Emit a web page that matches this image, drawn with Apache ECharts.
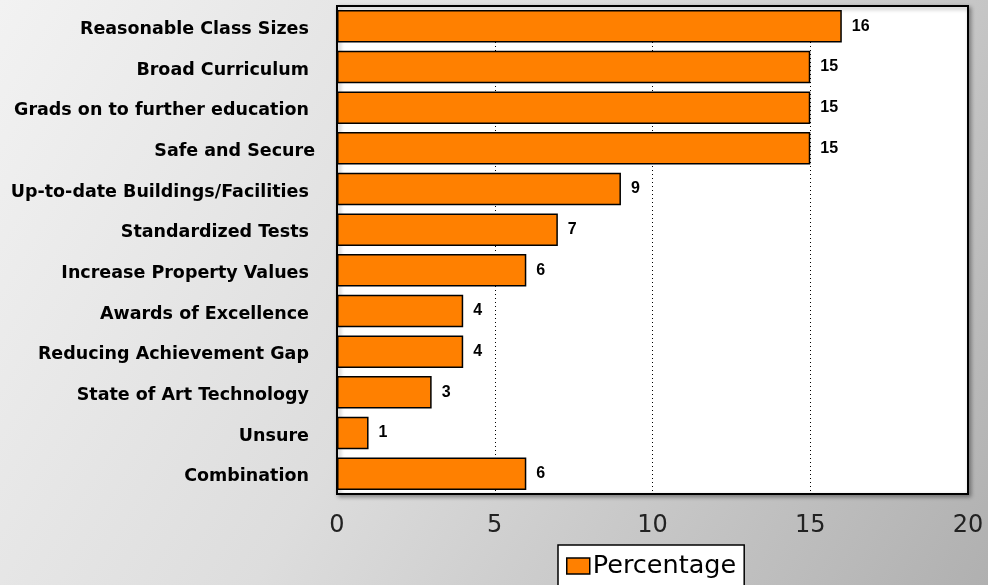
<!DOCTYPE html>
<html><head><meta charset="utf-8">
<script src="https://cdn.jsdelivr.net/npm/echarts@6/dist/echarts.min.js"></script>
<style>html,body{margin:0;padding:0;}#c{width:988px;height:585px;}</style>
</head><body><div id="c"></div>
<script>
const categories = ["Reasonable Class Sizes ", "Broad Curriculum ", "Grads on to further education ", "Safe and Secure", "Up-to-date Buildings/Facilities ", "Standardized Tests ", "Increase Property Values ", "Awards of Excellence ", "Reducing Achievement Gap ", "State of Art Technology ", "Unsure ", "Combination "];
const values = [16, 15, 15, 15, 9, 7, 6, 4, 4, 3, 1, 6];
const xTicks = [0, 5, 10, 15, 20];
const seriesName = "Percentage";

const chart = echarts.init(document.getElementById('c'));
chart.setOption({
  animation: false,
  backgroundColor: {
    type: 'linear', x: 0, y: 0, x2: 1, y2: 1,
    colorStops: [{offset: 0, color: '#f2f2f2'}, {offset: 0.45, color: '#dddddd'}, {offset: 1, color: '#b0b0b0'}]
  },
  grid: { left: 337, right: 20, top: 6, bottom: 91, show: true, backgroundColor: '#ffffff', borderColor: '#000', borderWidth: 2,
    shadowColor: 'rgba(0,0,0,0.35)', shadowBlur: 4, shadowOffsetX: 2, shadowOffsetY: 2 },
  legend: {
    data: [seriesName], left: 558, top: 545, icon: 'rect', itemWidth: 23, itemHeight: 16, itemGap: 4,
    backgroundColor: '#fff', borderColor: '#000', borderWidth: 1.5, padding: [8, 8, 10, 8],
    itemStyle: { borderColor: '#000', borderWidth: 1.5 },
    textStyle: { fontFamily: 'DejaVu Sans', fontSize: 25.5, color: '#000', padding: [0,0,0,-2] }
  },
  xAxis: {
    type: 'value', min: 0, max: 20, interval: 5,
    axisLine: { show: false }, axisTick: { show: false },
    splitLine: { show: true, lineStyle: { color: '#000', type: [1, 3], width: 1 } },
    axisLabel: { fontFamily: 'DejaVu Sans', fontSize: 24, color: '#222', margin: 20,
      formatter: v => xTicks.includes(v) ? String(v) : '' }
  },
  yAxis: {
    type: 'category', data: categories, inverse: true,
    axisLine: { show: false }, axisTick: { show: false },
    axisLabel: { fontFamily: 'DejaVu Sans', fontSize: 17.5, fontWeight: 'bold', color: '#000', margin: 22,
      verticalAlign: 'top', lineHeight: 6 }
  },
  series: [{
    name: seriesName, type: 'bar', data: values, barCategoryGap: '20%',
    itemStyle: { color: '#ff8000', borderColor: '#000', borderWidth: 1.5 },
    label: { show: true, position: 'right', distance: 10, fontFamily: 'Liberation Sans, Arial', fontSize: 16, fontWeight: 'bold', color: '#000' }
  }]
});
</script></body></html>
